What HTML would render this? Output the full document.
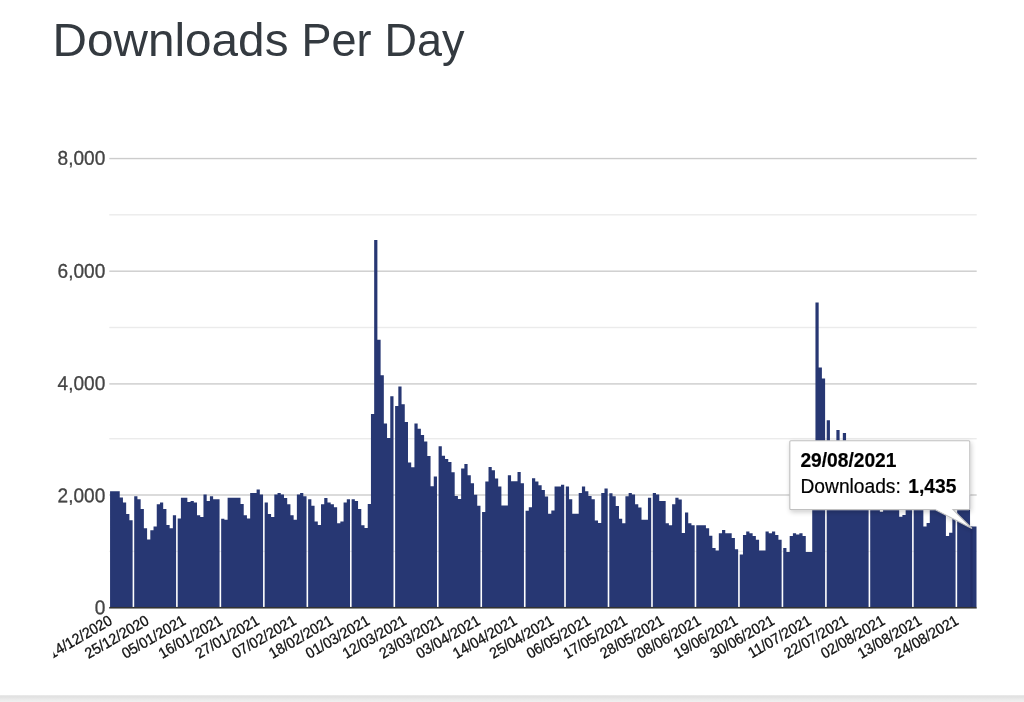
<!DOCTYPE html>
<html lang="en">
<head>
<meta charset="utf-8">
<title>Downloads Per Day</title>
<style>
html,body{margin:0;padding:0;background:#fff;}
body{width:1024px;height:702px;overflow:hidden;position:relative;font-family:"Liberation Sans",Arial,sans-serif;}
#footer{position:absolute;left:0;top:694px;width:1024px;height:8px;background:linear-gradient(to bottom,#ffffff 0,#ffffff 8%,#e6e6e6 20%,#e1e1e1 34%,#ebebeb 70%,#f0f0f0 100%);}
svg{position:absolute;left:0;top:0;}
svg text{font-family:"Liberation Sans",Arial,sans-serif;}
</style>
</head>
<body>
<div id="footer"></div>
<svg width="1024" height="702" viewBox="0 0 1024 702">
<defs>
<clipPath id="clipL"><rect x="53.5" y="100" width="970" height="595"/></clipPath>
<filter id="sh" x="-10%" y="-10%" width="130%" height="140%"><feGaussianBlur in="SourceAlpha" stdDeviation="2.4"/><feOffset dx="0.5" dy="1.5"/><feComponentTransfer><feFuncA type="linear" slope="0.2"/></feComponentTransfer><feMerge><feMergeNode/><feMergeNode in="SourceGraphic"/></feMerge></filter>
</defs>
<text id="title" y="55.7" font-size="45.6" fill="#343a40"><tspan x="52.5" textLength="236" lengthAdjust="spacingAndGlyphs">Downloads</tspan> <tspan x="301.5" textLength="70" lengthAdjust="spacingAndGlyphs">Per</tspan> <tspan x="384.5" textLength="80" lengthAdjust="spacingAndGlyphs">Day</tspan></text>
<g id="grid"><rect x="109.3" y="157.85" width="867.4" height="1.4" fill="#ccc"/><rect x="109.3" y="270.50" width="867.4" height="1.4" fill="#ccc"/><rect x="109.3" y="383.20" width="867.4" height="1.4" fill="#ccc"/><rect x="109.3" y="494.30" width="867.4" height="1.4" fill="#ccc"/><rect x="109.3" y="214.10" width="867.4" height="1.4" fill="#ebebeb"/><rect x="109.3" y="326.80" width="867.4" height="1.4" fill="#ebebeb"/><rect x="109.3" y="438.00" width="867.4" height="1.4" fill="#ebebeb"/><rect x="109.3" y="550.70" width="867.4" height="1.4" fill="#ebebeb"/></g>
<path id="bars" fill="#273773" d="M110.06 607.0V491.2H113.28V491.2H116.50V491.2H119.72V497.4H122.94V502.5H126.17V514.0H129.39V520.2H132.61V607.0ZM134.21 607.0V496.2H137.43V499.2H140.65V509.0H143.87V528.2H147.09V539.4H150.31V530.2H153.53V526.6H156.75V504.2H159.97V502.5H163.19V509.0H166.42V525.0H169.64V528.2H172.86V515.3H176.08V607.0ZM177.69 607.0V518.6H180.91V497.8H184.13V497.8H187.35V502.0H190.57V501.0H193.79V502.4H197.01V515.2H200.24V517.0H203.46V494.4H206.68V501.0H209.90V496.2H213.12V499.2H216.34V499.2H219.56V607.0ZM221.17 607.0V518.8H224.39V519.8H227.61V497.8H230.84V497.8H234.06V497.8H237.28V497.8H240.50V504.0H243.72V515.2H246.94V518.4H250.16V493.0H253.38V493.0H256.60V489.6H259.82V494.4H263.05V607.0ZM264.66 607.0V502.6H267.88V514.0H271.10V517.0H274.32V494.4H277.54V493.0H280.76V494.4H283.98V498.0H287.20V504.2H290.42V515.2H293.64V519.8H296.87V494.4H300.09V493.0H303.31V496.2H306.53V607.0ZM308.14 607.0V499.2H311.36V505.8H314.58V521.6H317.80V525.0H321.02V504.2H324.24V498.0H327.47V502.4H330.69V504.2H333.91V507.2H337.13V523.2H340.35V521.6H343.57V502.4H346.79V499.2H350.01V607.0ZM351.62 607.0V499.2H354.84V501.0H358.06V509.0H361.29V525.2H364.51V528.0H367.73V504.0H370.95V414.0H374.17V240.0H377.39V339.7H380.61V375.3H383.83V423.6H387.05V438.1H390.27V396.2H393.50V607.0ZM395.11 607.0V406.0H398.33V386.5H401.55V404.3H404.77V421.9H407.99V462.4H411.21V467.2H414.43V423.6H417.65V428.7H420.87V435.0H424.10V441.5H427.32V456.0H430.54V486.3H433.76V476.6H436.98V607.0ZM438.59 607.0V446.3H441.81V455.8H445.03V459.1H448.25V462.1H451.47V472.2H454.69V496.0H457.92V499.0H461.14V468.5H464.36V463.9H467.58V475.3H470.80V483.3H474.02V494.7H477.24V505.8H480.46V607.0ZM482.07 607.0V512.0H485.29V481.6H488.52V467.1H491.74V470.2H494.96V478.4H498.18V486.4H501.40V505.5H504.62V505.5H507.84V475.3H511.06V481.2H514.28V481.2H517.50V472.1H520.73V483.3H523.95V607.0ZM525.56 607.0V510.8H528.78V507.2H532.00V478.3H535.22V481.6H538.44V485.3H541.66V489.9H544.88V496.4H548.10V513.8H551.32V510.4H554.55V486.4H557.77V486.4H560.99V484.7H564.21V607.0ZM565.82 607.0V486.4H569.04V499.2H572.26V513.8H575.48V513.8H578.70V493.0H581.92V486.4H585.15V491.2H588.37V496.1H591.59V499.2H594.81V520.4H598.03V522.9H601.25V493.0H604.47V488.4H607.69V607.0ZM609.30 607.0V493.2H612.52V496.2H615.74V505.9H618.97V518.7H622.19V523.2H625.41V496.2H628.63V493.1H631.85V494.5H635.07V504.2H638.29V507.4H641.51V519.8H644.73V519.8H647.95V497.7H651.18V607.0ZM652.79 607.0V493.1H656.01V494.5H659.23V501.0H662.45V501.0H665.67V523.2H668.89V525.2H672.11V504.2H675.33V497.7H678.55V499.4H681.78V532.9H685.00V512.4H688.22V523.3H691.44V525.2H694.66V607.0ZM696.27 607.0V525.2H699.49V525.3H702.71V525.3H705.93V528.3H709.15V535.8H712.37V547.9H715.60V550.6H718.82V533.3H722.04V530.1H725.26V533.3H728.48V533.3H731.70V538.1H734.92V549.2H738.14V607.0ZM739.75 607.0V554.4H742.97V535.0H746.20V531.6H749.42V533.3H752.64V536.1H755.86V539.8H759.08V550.6H762.30V550.6H765.52V531.6H768.74V533.3H771.96V531.6H775.18V535.0H778.41V539.8H781.63V607.0ZM783.24 607.0V547.9H786.46V552.1H789.68V536.1H792.90V533.3H796.12V534.5H799.34V533.3H802.56V536.1H805.78V552.1H809.00V552.1H812.23V480.0H815.45V302.5H818.67V367.4H821.89V378.4H825.11V607.0ZM826.72 607.0V420.3H829.94V470.0H833.16V475.0H836.38V430.1H839.60V478.0H842.83V433.1H846.05V495.0H849.27V495.0H852.49V495.0H855.71V495.0H858.93V495.0H862.15V495.0H865.37V495.0H868.59V607.0ZM870.20 607.0V495.0H873.42V495.0H876.65V495.0H879.87V511.8H883.09V495.0H886.31V495.0H889.53V495.0H892.75V495.0H895.97V495.0H899.19V516.7H902.41V514.9H905.63V495.0H908.86V495.0H912.08V607.0ZM913.69 607.0V495.0H916.91V495.0H920.13V495.0H923.35V526.4H926.57V523.1H929.79V495.0H933.01V495.0H936.23V495.0H939.46V495.0H942.68V495.0H945.90V536.0H949.12V532.7H952.34V512.0H955.56V607.0ZM957.17 607.0V495.0H960.39V495.0H963.61V495.0H966.83V495.0H970.05V526.6H973.28V526.6H976.50V607.0Z"/>
<rect x="970.4" y="526.6" width="2.2" height="80.7" fill="#1f2a5e" opacity="0.55"/>
<rect x="109.2" y="606.95" width="867.5" height="1.6" fill="#333"/>
<g id="ylabels" font-size="19.95" fill="#444" stroke="#444" stroke-width="0.3"><text transform="translate(105.25 164.85) rotate(0.03) scale(0.955 1)" text-anchor="end">8,000</text><text transform="translate(105.25 277.75) rotate(0.03) scale(0.955 1)" text-anchor="end">6,000</text><text transform="translate(105.25 389.95) rotate(0.03) scale(0.955 1)" text-anchor="end">4,000</text><text transform="translate(105.25 502.15) rotate(0.03) scale(0.955 1)" text-anchor="end">2,000</text><text transform="translate(105.25 614.15) rotate(0.03) scale(0.955 1)" text-anchor="end">0</text></g>
<g id="xlabels" font-size="15.1" fill="#111" stroke="#111" stroke-width="0.3" clip-path="url(#clipL)"><text transform="translate(113.27 623.5) rotate(-30) scale(0.94 1)" text-anchor="end">14/12/2020</text><text transform="translate(150.07 623.5) rotate(-30) scale(0.94 1)" text-anchor="end">25/12/2020</text><text transform="translate(186.86 623.5) rotate(-30) scale(0.94 1)" text-anchor="end">05/01/2021</text><text transform="translate(223.66 623.5) rotate(-30) scale(0.94 1)" text-anchor="end">16/01/2021</text><text transform="translate(260.45 623.5) rotate(-30) scale(0.94 1)" text-anchor="end">27/01/2021</text><text transform="translate(297.25 623.5) rotate(-30) scale(0.94 1)" text-anchor="end">07/02/2021</text><text transform="translate(334.04 623.5) rotate(-30) scale(0.94 1)" text-anchor="end">18/02/2021</text><text transform="translate(370.84 623.5) rotate(-30) scale(0.94 1)" text-anchor="end">01/03/2021</text><text transform="translate(407.63 623.5) rotate(-30) scale(0.94 1)" text-anchor="end">12/03/2021</text><text transform="translate(444.43 623.5) rotate(-30) scale(0.94 1)" text-anchor="end">23/03/2021</text><text transform="translate(481.22 623.5) rotate(-30) scale(0.94 1)" text-anchor="end">03/04/2021</text><text transform="translate(518.02 623.5) rotate(-30) scale(0.94 1)" text-anchor="end">14/04/2021</text><text transform="translate(554.81 623.5) rotate(-30) scale(0.94 1)" text-anchor="end">25/04/2021</text><text transform="translate(591.61 623.5) rotate(-30) scale(0.94 1)" text-anchor="end">06/05/2021</text><text transform="translate(628.40 623.5) rotate(-30) scale(0.94 1)" text-anchor="end">17/05/2021</text><text transform="translate(665.20 623.5) rotate(-30) scale(0.94 1)" text-anchor="end">28/05/2021</text><text transform="translate(701.99 623.5) rotate(-30) scale(0.94 1)" text-anchor="end">08/06/2021</text><text transform="translate(738.79 623.5) rotate(-30) scale(0.94 1)" text-anchor="end">19/06/2021</text><text transform="translate(775.58 623.5) rotate(-30) scale(0.94 1)" text-anchor="end">30/06/2021</text><text transform="translate(812.38 623.5) rotate(-30) scale(0.94 1)" text-anchor="end">11/07/2021</text><text transform="translate(849.17 623.5) rotate(-30) scale(0.94 1)" text-anchor="end">22/07/2021</text><text transform="translate(885.97 623.5) rotate(-30) scale(0.94 1)" text-anchor="end">02/08/2021</text><text transform="translate(922.76 623.5) rotate(-30) scale(0.94 1)" text-anchor="end">13/08/2021</text><text transform="translate(959.56 623.5) rotate(-30) scale(0.94 1)" text-anchor="end">24/08/2021</text></g>
<g id="tooltip">
<path filter="url(#sh)" d="M790.8 440.7H968.8a1 1 0 0 1 1 1V508.6a1 1 0 0 1 -1 1H953L972 528.5L935 509.6H790.8a1 1 0 0 1 -1 -1V441.7a1 1 0 0 1 1 -1Z" fill="#fff" stroke="#c0c0c0" stroke-width="1.1"/>
<g font-size="19.9" fill="#000" stroke="#000" stroke-width="0.2">
<text transform="translate(800.4 466.8) scale(0.965 1)" font-weight="bold">29/08/2021</text>
<text transform="translate(800.5 492.5) scale(0.965 1)">Downloads: <tspan x="111.7" font-weight="bold">1,435</tspan></text>
</g>
</g>
</svg>
</body>
</html>
